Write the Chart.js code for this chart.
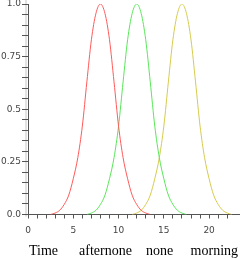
<!DOCTYPE html>
<html>
<head>
<meta charset="utf-8">
<script src="https://cdn.jsdelivr.net/npm/chart.js@4.4.0/dist/chart.umd.min.js"></script>
<style>
  html, body { margin: 0; padding: 0; background: #fff; }
  #wrap { width: 248px; height: 260px; }
</style>
</head>
<body>
<div id="wrap"><canvas id="myChart" width="248" height="260"></canvas></div>
<script>
'use strict';

// step 0.5
const redX = [2.5, 3, 3.5, 4, 4.5, 5, 5.5, 6, 6.5, 7, 7.5, 8, 8.5, 9, 9.5, 10, 10.5, 11, 11.5, 12, 12.5, 13, 13.5];
const redY = [0, 0.007, 0.02, 0.048, 0.092, 0.17, 0.27, 0.42, 0.63, 0.83, 0.955, 1, 0.955, 0.83, 0.63, 0.42, 0.27, 0.17, 0.092, 0.048, 0.02, 0.007, 0];

const greenX = [6.5, 7, 7.5, 8, 8.5, 9, 9.5, 10, 10.5, 11, 11.5, 12, 12.5, 13, 13.5, 14, 14.5, 15, 15.5, 16, 16.5, 17, 17.5];
const greenY = [0, 0.007, 0.02, 0.048, 0.092, 0.17, 0.27, 0.42, 0.63, 0.83, 0.955, 1, 0.955, 0.83, 0.63, 0.42, 0.27, 0.17, 0.092, 0.048, 0.02, 0.007, 0];

const yellowX = [11.5, 12, 12.5, 13, 13.5, 14, 14.5, 15, 15.5, 16, 16.5, 17, 17.5, 18, 18.5, 19, 19.5, 20, 20.5, 21, 21.5, 22, 22.5];
const yellowY = [0, 0.007, 0.02, 0.048, 0.092, 0.17, 0.27, 0.42, 0.63, 0.83, 0.955, 1, 0.955, 0.83, 0.63, 0.42, 0.27, 0.17, 0.092, 0.048, 0.02, 0.007, 0];

const yLabels = { 0: '0.0', 25: '0.25', 50: '0.5', 75: '0.75', 100: '1.0' };
const xTitle = 'Time      afternone    none     morning';

function pts(xs, ys) {
  return xs.map((x, i) => ({ x: x, y: ys[i] }));
}

function line(data, color) {
  return {
    data: data,
    borderColor: color,
    borderWidth: 1,
    pointRadius: 0,
    fill: false,
    cubicInterpolationMode: 'monotone'
  };
}

// faint grey strip just left of the y axis, like the original
const axisShade = {
  id: 'axisShade',
  beforeDraw(chart) {
    const a = chart.chartArea;
    const c = chart.ctx;
    c.save();
    c.strokeStyle = '#e2e2e2';
    c.lineWidth = 2;
    c.beginPath();
    c.moveTo(a.left - 2, a.top - 4);
    c.lineTo(a.left - 2, a.bottom + 2);
    c.stroke();
    c.restore();
  }
};

const tickFont = { family: 'DejaVu Sans', size: 9 };

const ctx = document.getElementById('myChart').getContext('2d');
const myChart = new Chart(ctx, {
  type: 'line',
  data: {
    datasets: [
      line(pts(redX, redY), '#ff5a5a'),
      line(pts(greenX, greenY), '#5ae65a'),
      line(pts(yellowX, yellowY), '#d6cb4e')
    ]
  },
  plugins: [axisShade],
  options: {
    responsive: false,
    animation: false,
    layout: { padding: { top: 4, right: 9, left: 0, bottom: 0 } },
    plugins: { legend: { display: false }, tooltip: { enabled: false } },
    scales: {
      x: {
        type: 'linear',
        min: 0,
        max: 23.3,
        border: { color: '#555', width: 1 },
        grid: { drawOnChartArea: false, tickLength: 4, tickColor: '#555' },
        ticks: {
          stepSize: 1,
          padding: 7,
          color: '#444',
          font: tickFont,
          autoSkip: false,
          maxRotation: 0,
          callback: function (v) {
            return v % 5 === 0 ? String(v) : '';
          }
        },
        afterBuildTicks: function (scale) {
          scale.ticks = scale.ticks.filter(t => Number.isInteger(t.value));
        },
        afterFit: function (scale) {
          scale.height = 45.5;
          scale.paddingLeft = 0;
          scale.paddingRight = 0;
        },
        title: {
          display: true,
          text: xTitle,
          color: '#000',
          padding: { top: 0, bottom: 0 },
          font: { family: 'Liberation Serif', size: 14 }
        }
      },
      y: {
        min: 0,
        max: 1,
        border: { color: '#555', width: 1 },
        grid: { drawOnChartArea: false, tickLength: 6, tickColor: '#555' },
        ticks: {
          stepSize: 0.05,
          padding: 1,
          color: '#444',
          font: tickFont,
          autoSkip: false,
          callback: function (v) {
            const k = Math.round(v * 100);
            return k % 25 === 0 ? yLabels[k] : '';
          }
        },
        afterFit: function (scale) {
          scale.width = 28;
          scale.paddingTop = 0;
          scale.paddingBottom = 0;
        }
      }
    }
  }
});
</script>
</body>
</html>
